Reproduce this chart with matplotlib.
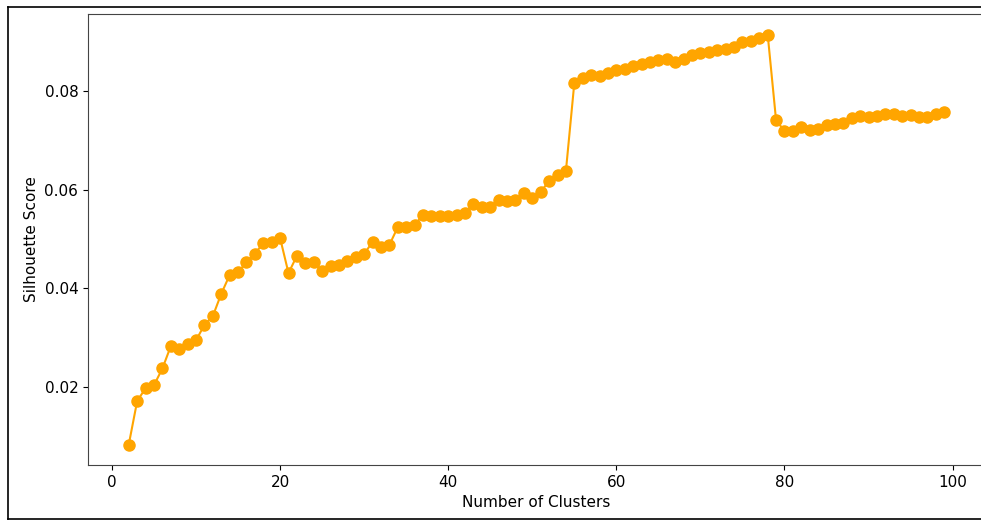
import matplotlib
matplotlib.use("Agg")
import matplotlib.pyplot as plt
from matplotlib.lines import Line2D

# Número de clusters probados
n_clusters = list(range(2, 100))

# Silhouette score para cada número de clusters
silhouette = [
    0.0084, 0.0172, 0.0198, 0.0204, 0.0238, 0.0283, 0.0277, 0.0287, 0.0295, 0.0326,
    0.0344, 0.0389, 0.0427, 0.0433, 0.0453, 0.0470, 0.0492, 0.0494, 0.0502, 0.0431,
    0.0466, 0.0451, 0.0453, 0.0435, 0.0445, 0.0447, 0.0455, 0.0464, 0.0470, 0.0494,
    0.0484, 0.0488, 0.0524, 0.0524, 0.0528, 0.0549, 0.0547, 0.0547, 0.0547, 0.0549,
    0.0553, 0.0571, 0.0565, 0.0565, 0.0579, 0.0577, 0.0579, 0.0593, 0.0583, 0.0595,
    0.0618, 0.0630, 0.0638, 0.0816, 0.0826, 0.0832, 0.0830, 0.0837, 0.0843, 0.0845,
    0.0851, 0.0855, 0.0859, 0.0863, 0.0865, 0.0859, 0.0865, 0.0873, 0.0877, 0.0879,
    0.0883, 0.0885, 0.0889, 0.0899, 0.0901, 0.0907, 0.0914, 0.0740, 0.0719, 0.0719,
    0.0727, 0.0721, 0.0723, 0.0731, 0.0733, 0.0735, 0.0745, 0.0749, 0.0747, 0.0749,
    0.0753, 0.0753, 0.0749, 0.0751, 0.0747, 0.0747, 0.0753, 0.0757,
]

fig = plt.figure(figsize=(9.81, 5.2), dpi=100)
ax = fig.add_axes([88 / 981, 55 / 520, 897 / 981, 451 / 520])

ax.plot(n_clusters, silhouette, marker='o', color='orange',
        markersize=8, linewidth=1.5)

ax.set_xlabel("Number of Clusters", fontsize=11)
ax.set_ylabel("Silhouette Score", fontsize=11)
ax.tick_params(labelsize=11)
# el borde derecho queda fuera de la captura
ax.spines['right'].set_visible(False)
for s in ['left', 'top', 'bottom']:
    ax.spines[s].set_color('#444444')

# Marco exterior de la captura
for coords in [([8 / 981, 1], [1 - 7 / 520] * 2),
               ([8 / 981] * 2, [1 / 520, 1 - 7 / 520]),
               ([8 / 981, 1], [1 / 520] * 2)]:
    fig.add_artist(Line2D(coords[0], coords[1], color='black', linewidth=1.2))

plt.savefig("out.png", dpi=100)
